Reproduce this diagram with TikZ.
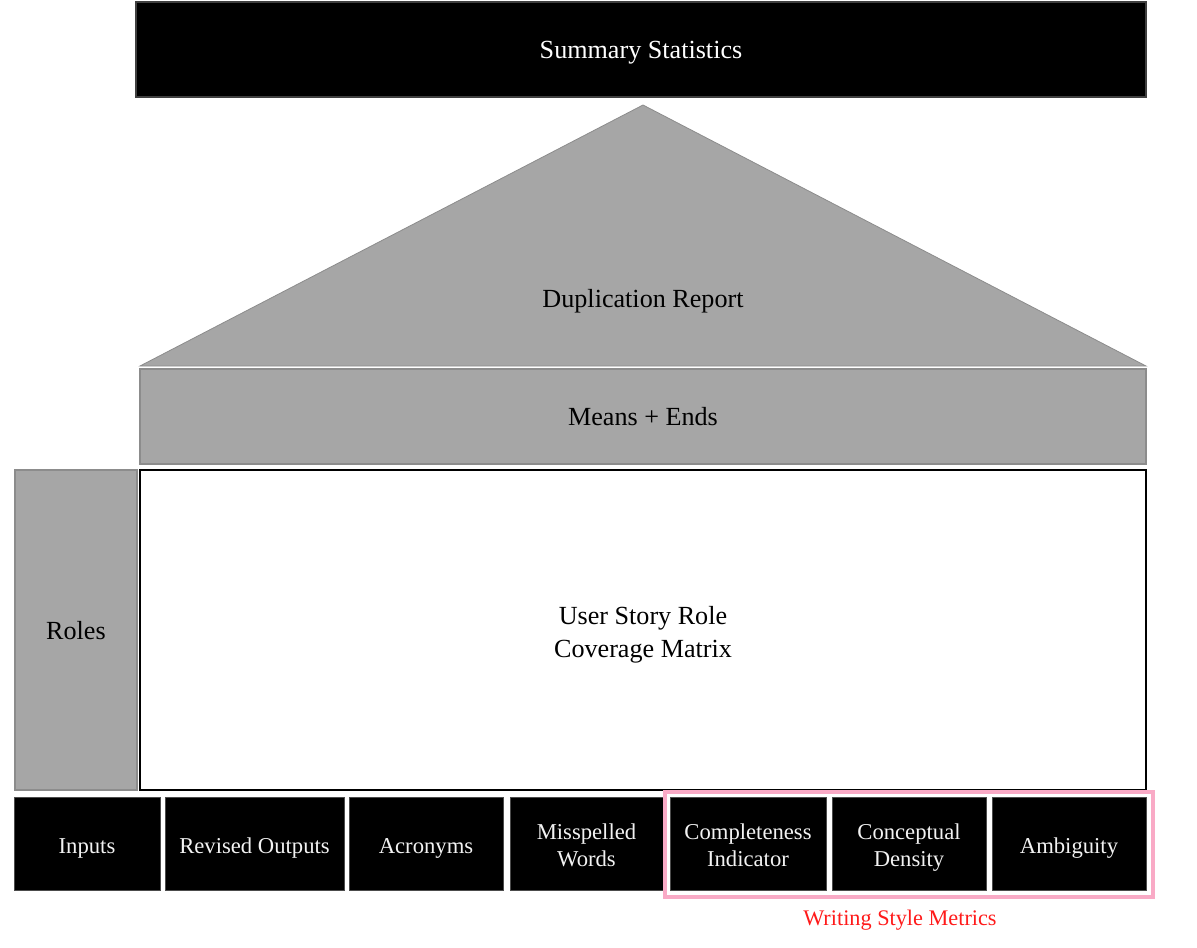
\documentclass[tikz,border=0pt]{standalone}
\usepackage{fontspec}
\setmainfont{Liberation Serif}
\definecolor{boxgray}{HTML}{A6A6A6}
\definecolor{edgegray}{HTML}{8C8C8C}
\definecolor{pinkedge}{HTML}{F9AAC6}
\definecolor{redtext}{HTML}{FF1A1A}
\definecolor{lighttext}{HTML}{F2F2F2}
% name, x1, y1, x2, y2, box style, text style, text, text shift (px, downwards)
\newcommand\pbox[9]{\node[#6, minimum width={(#4-#2)*0.75pt}, minimum height={(#5-#3)*0.75pt},
  label={[name=#1-text, #7, yshift={-(#9)*0.75pt}]center:#8}] (#1) at ({(#2+#4)/2},{(#3+#5)/2}) {};}
\tikzset{
  base/.style={inner sep=0pt, outer sep=0pt, rectangle},
  blackbox/.style={base, fill=black, draw=black!75, line width=0.8pt},
  graybox/.style={base, fill=boxgray, draw=edgegray, line width=0.8pt},
  whitebox/.style={base, fill=white, draw=black, line width=1.1pt},
  metricbox/.style={base, fill=black, draw=black!70, line width=0.6pt},
  bigwhite/.style={inner sep=0pt, align=center, text=white, font=\fontsize{19.6}{24}\selectfont},
  bigblack/.style={inner sep=0pt, align=center, text=black, font=\fontsize{19.6}{24.75}\selectfont},
  smallwhite/.style={inner sep=0pt, align=center, text=lighttext, font=\fontsize{17}{20.25}\selectfont},
  groupframe/.style={draw=pinkedge, line width=3pt},
  grouplabel/.style={text=redtext, font=\fontsize{16.7}{20}\selectfont, inner sep=0pt},
  plainlabel/.style={inner sep=0pt, font=\fontsize{19.6}{24}\selectfont}
}
\begin{document}
\begin{tikzpicture}[x=0.75pt, y=-0.75pt]
\useasboundingbox (0,0) rectangle (1197,947);
% top bar
\pbox{summary}{136}{2}{1146}{97}{blackbox}{bigwhite}{Summary Statistics}{3}
% roof
\coordinate (apex) at (643,105);
\coordinate (roofL) at (140,366);
\coordinate (roofR) at (1146,366);
\fill[boxgray, draw=edgegray, line width=0.6pt] (apex) -- (roofR) -- (roofL) -- cycle;
\node[plainlabel] (dup) at (643,301) {Duplication Report};
% means + ends
\pbox{means}{140}{369}{1146}{464}{graybox}{bigblack}{Means + Ends}{0}
% roles
\pbox{roles}{15}{470}{137}{790}{graybox}{bigblack}{Roles}{1}
% matrix
\pbox{matrix}{140}{470}{1146}{790}{whitebox}{bigblack}{User Story Role\\Coverage Matrix}{5}
% bottom metrics
\pbox{inputs}{14}{797}{160}{890}{metricbox}{smallwhite}{Inputs}{5}
\pbox{revised}{165}{797}{344}{890}{metricbox}{smallwhite}{Revised Outputs}{5}
\pbox{acro}{349}{797}{503}{890}{metricbox}{smallwhite}{Acronyms}{5}
\pbox{missp}{510}{797}{663}{890}{metricbox}{smallwhite}{Misspelled\\Words}{2}
\pbox{compl}{670}{797}{826}{890}{metricbox}{smallwhite}{Completeness\\Indicator}{2}
\pbox{concept}{832}{797}{986}{890}{metricbox}{smallwhite}{Conceptual\\Density}{4}
\pbox{ambig}{992}{797}{1146}{890}{metricbox}{smallwhite}{Ambiguity}{5}
% group frame
\coordinate (gTL) at (665,791.5);
\coordinate (gBR) at (1153,896.5);
\draw[groupframe] (gTL) rectangle (gBR);
\node[grouplabel] (wsm) at (900,920) {Writing Style Metrics};
\end{tikzpicture}
\end{document}
